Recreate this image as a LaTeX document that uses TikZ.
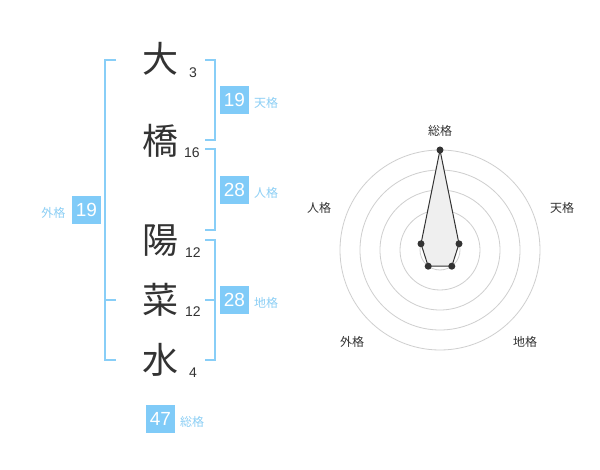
\documentclass[tikz,border=0pt]{standalone}
\usepackage{fontspec}
\setmainfont{Liberation Sans}
\newfontfamily\jpfont{Noto Sans CJK JP}
\definecolor{brk}{HTML}{88CEF7}
\definecolor{boxc}{HTML}{80CBF8}
\definecolor{lab}{HTML}{8CCFF5}
\definecolor{ink}{HTML}{333333}
\definecolor{ring}{HTML}{CFCFCF}
\definecolor{area}{HTML}{EFEFEF}
\begin{document}
\begin{tikzpicture}[x=1pt,y=-1pt,
  kanji/.style={font=\jpfont\fontsize{36}{36}\selectfont, text=ink, inner sep=0pt},
  strokes/.style={font=\fontsize{14}{14}\selectfont, text=ink, inner sep=0pt},
  numbox/.style={fill=boxc, text=white, minimum width=29pt, minimum height=28pt, inner sep=0pt, font=\fontsize{19}{19}\selectfont},
  kaku/.style={font=\jpfont\fontsize{12}{12}\selectfont, text=lab, inner sep=0pt},
  bracket/.style={draw=brk, line width=2pt},
  radlab/.style={font=\jpfont\fontsize{12}{12}\selectfont, text=ink, inner sep=0pt},
  ringc/.style={draw=ring, line width=0.8pt},
  dot/.style={circle, fill=ink, inner sep=0pt, minimum size=7pt}]
\useasboundingbox[fill=white] (0,0) rectangle (600,470);

% characters
\node[kanji] (k1) at (160,59) {大};
\node[kanji] (k2) at (160,141) {橋};
\node[kanji] (k3) at (160,241) {陽};
\node[kanji] (k4) at (160,300) {菜};
\node[kanji] (k5) at (160,360) {水};
\node[strokes] (s1) at (193,73) {3};
\node[strokes] (s2) at (192,153) {16};
\node[strokes] (s3) at (193,253) {12};
\node[strokes] (s4) at (193,312) {12};
\node[strokes] (s5) at (193,373) {4};

% brackets
\draw[bracket] (116,60) -- (105,60) -- (105,360) -- (116,360);
\draw[bracket] (105,300) -- (116,300);
\draw[bracket] (205,60) -- (215,60) -- (215,140) -- (205,140);
\draw[bracket] (205,149) -- (215,149) -- (215,230) -- (205,230);
\draw[bracket] (205,240) -- (215,240) -- (215,360) -- (205,360);
\draw[bracket] (205,300) -- (215,300);

% boxes and labels
\node[numbox] (ten) at (234.5,100) {19};
\node[kaku] (tenl) at (266,103) {天格};
\node[numbox] (jin) at (234.5,190) {28};
\node[kaku] (jinl) at (266,193) {人格};
\node[numbox] (chi) at (234.5,300) {28};
\node[kaku] (chil) at (266,303) {地格};
\node[numbox] (gai) at (86.5,210) {19};
\node[kaku] (gail) at (53.5,213) {外格};
\node[numbox] (sou) at (160.5,419) {47};
\node[kaku] (soul) at (192,422) {総格};

% radar
\coordinate (C) at (440,250);
\foreach \r in {20,40,60,80,100} \draw[ringc] (C) circle (\r pt);
\node[circle, fill=ring, inner sep=0pt, minimum size=8pt] (cen) at (C) {};
\coordinate (pS) at (440,150);
\coordinate (pT) at (459.0,243.8);
\coordinate (pC) at (451.8,266.2);
\coordinate (pG) at (428.2,266.2);
\coordinate (pJ) at (421.0,243.8);
\draw[fill=area, draw=ink, line width=1pt] (pS) -- (pT) -- (pC) -- (pG) -- (pJ) -- cycle;
\foreach \p in {pS,pT,pC,pG,pJ} \node[dot] at (\p) {};
\node[radlab] (rS) at (440,131) {総格};
\node[radlab] (rT) at (562,208) {天格};
\node[radlab] (rJ) at (319,208) {人格};
\node[radlab] (rG) at (352,342) {外格};
\node[radlab] (rC) at (525,342) {地格};
\end{tikzpicture}
\end{document}
